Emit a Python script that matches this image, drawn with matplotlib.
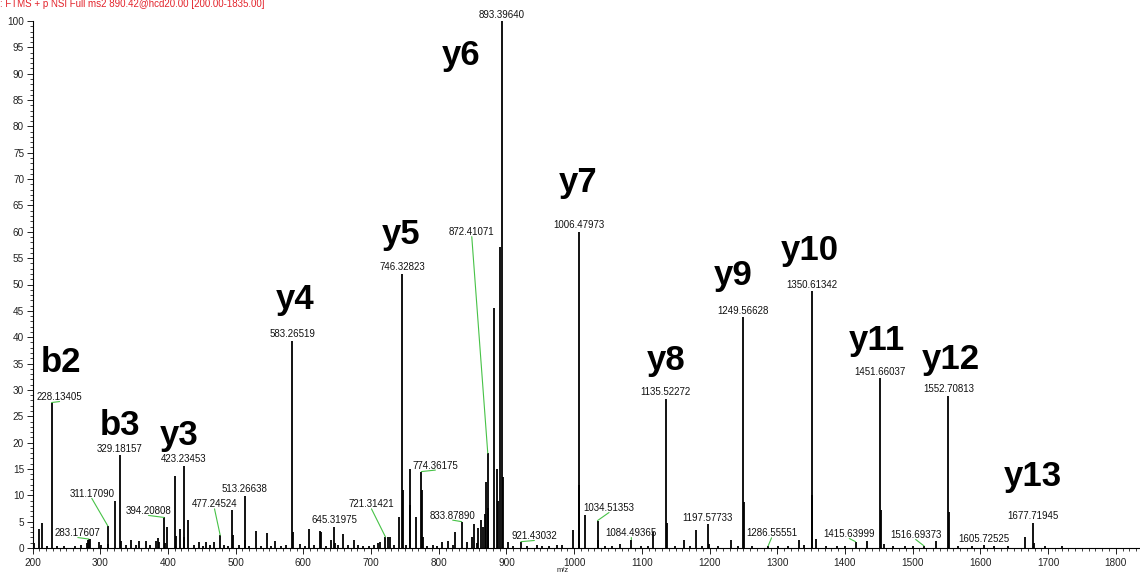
import matplotlib
matplotlib.use("Agg")
import matplotlib.pyplot as plt
from matplotlib.ticker import MultipleLocator

plt.rcParams['font.family'] = ['Liberation Sans', 'DejaVu Sans']

# ---- spectrum data -------------------------------------------------------
# centroid peaks that carry an m/z label (relative abundance, %)
labeled_mz = [228.13405, 283.17607, 311.17090, 329.18157, 394.20808, 423.23453,
              477.24524, 513.26638, 583.26519, 645.31975, 721.31421, 746.32823,
              774.36175, 833.87890, 872.41071, 893.39640, 921.43032, 1006.47973,
              1034.51353, 1084.49365, 1135.52272, 1197.57733, 1249.56628,
              1286.55551, 1350.61342, 1415.63999, 1451.66037, 1516.69373,
              1552.70813, 1605.72525, 1677.71945]
labeled_int = [27.6, 1.7, 4.2, 17.6, 5.8, 15.6,
               2.4, 9.9, 39.3, 4.0, 2.1, 52.0,
               14.5, 5.0, 18.0, 100.0, 1.2, 60.0,
               5.2, 1.6, 28.3, 4.5, 43.8,
               0.4, 48.7, 1.2, 32.2, 0.4,
               28.9, 0.5, 4.8]

# remaining peaks without a label
other_mz = [200.9, 202.6, 210.1, 214.6, 221.1, 236.2, 247.1, 262.2, 272.1, 280.9,
            281.8, 285.4, 298.2, 301.1, 312.2, 322.1, 330.2, 338.2, 345.2, 352.2,
            356.6, 367.2, 374.2, 382.2, 384.9, 386.2, 395.2, 399.3, 410.8, 411.8,
            417.2, 424.2, 429.4, 438.2, 445.3, 452.2, 456.6, 462.3, 468.2, 482.3,
            488.2, 494.6, 496.2, 504.3, 514.3, 520.3, 529.4, 537.3, 546.2, 552.3,
            557.5, 566.3, 574.3, 584.3, 595.3, 602.3, 608.3, 616.3, 625.3, 626.6,
            633.3, 641.3, 646.3, 651.3, 658.3, 665.3, 674.3, 680.3, 688.3, 697.3,
            704.3, 710.3, 713.3, 725.3, 727.4, 734.3, 740.8, 747.3, 751.3, 757.1,
            758.1, 767.0, 775.4, 776.4, 783.3, 791.3, 797.3, 804.6, 813.5, 820.4,
            824.3, 842.0, 849.5, 852.5, 856.0, 858.5, 862.5, 865.0, 868.0, 870.0,
            873.4, 880.9, 886.4, 888.0, 890.42, 894.4, 902.4, 910.3, 930.4, 944.4,
            952.4, 963.4, 975.4, 982.4, 998.5, 1007.5, 1016.5, 1035.5, 1045.5, 1056.5,
            1067.0, 1098.5, 1108.5, 1117.0, 1136.5, 1148.5, 1162.0, 1170.5, 1179.5, 1188.5,
            1198.6, 1212.5, 1231.0, 1241.5, 1250.6, 1262.6, 1301.6, 1315.6, 1332.0, 1339.0,
            1351.6, 1357.0, 1372.6, 1388.6, 1400.6, 1433.0, 1452.7, 1458.0, 1470.7, 1488.7,
            1500.7, 1534.0, 1553.7, 1566.7, 1587.0, 1620.7, 1640.7, 1666.0, 1678.7, 1695.7,
            1720.7]
other_int = [2.3, 1.0, 3.6, 4.8, 0.3, 0.4, 0.3, 0.4, 0.5, 1.0,
             1.6, 1.7, 1.2, 0.6, 0.8, 8.9, 1.4, 0.5, 1.6, 0.5,
             1.3, 1.3, 0.5, 1.4, 1.9, 1.2, 0.9, 3.9, 13.7, 2.2,
             3.7, 2.0, 5.3, 0.5, 1.2, 0.4, 1.2, 0.5, 1.2, 0.6,
             0.4, 7.2, 2.5, 0.5, 1.5, 0.4, 3.2, 0.4, 2.8, 0.4,
             1.3, 0.4, 0.5, 3.1, 0.8, 0.4, 3.7, 0.5, 3.3, 3.0,
             0.4, 1.5, 1.0, 0.5, 2.7, 0.6, 1.5, 0.6, 0.4, 0.4,
             0.5, 1.0, 1.2, 2.1, 2.0, 0.6, 5.9, 11.0, 0.6, 15.0,
             8.2, 5.9, 11.0, 2.0, 0.4, 0.5, 0.4, 1.2, 1.3, 0.5,
             3.1, 1.2, 2.1, 4.5, 1.0, 3.8, 5.4, 4.0, 6.4, 12.6,
             7.5, 45.5, 15.0, 9.0, 57.2, 13.5, 1.2, 0.4, 0.4, 0.5,
             0.4, 0.4, 0.5, 0.6, 3.4, 12.0, 6.3, 1.5, 0.4, 0.4,
             0.8, 0.4, 0.4, 3.1, 4.7, 0.4, 1.6, 0.4, 3.4, 0.4,
             0.8, 0.4, 1.5, 0.4, 8.8, 0.4, 0.4, 0.4, 1.6, 0.6,
             10.0, 1.8, 0.4, 0.4, 0.4, 1.4, 7.2, 0.7, 0.4, 0.4,
             0.4, 1.4, 6.9, 0.4, 0.4, 0.4, 0.4, 2.1, 1.0, 0.3,
             0.3]

# fragment ion assignments and the peak each one names
ion_names = ['b2', 'b3', 'y3', 'y4', 'y5', 'y6', 'y7', 'y8', 'y9',
             'y10', 'y11', 'y12', 'y13']
ion_mz = [228.13405, 329.18157, 423.23453, 583.26519, 746.32823, 893.39640,
          1006.47973, 1135.52272, 1249.56628, 1350.61342, 1451.66037,
          1552.70813, 1677.71945]

scan_header = ": FTMS + p NSI Full ms2 890.42@hcd20.00 [200.00-1835.00]"
x_title = "m/z"

# ---- label placement (pixel offsets of the text centre from the apex) ----
default_offset = (0, 6.5, False)
label_offsets = {
    228.13405: (8, 5.5, True),
    283.17607: (-11, 6, True),
    311.17090: (-16, 32, True),
    394.20808: (-15.5, 6.5, True),
    477.24524: (-5.7, 31, True),
    721.31421: (-14, 32.6, True),
    774.36175: (14, 6, True),
    833.87890: (-9, 6, True),
    872.41071: (-16, 221, True),
    921.43032: (13.4, 5.7, True),
    1034.51353: (11.5, 12.6, True),
    1084.49365: (0, 6.5, True),
    1286.55551: (3.4, 12.6, True),
    1415.63999: (-6.3, 7.7, True),
    1516.69373: (-8.3, 10.9, True),
}
ion_offsets = {
    'b2': (9, 40.5), 'b3': (0.5, 30), 'y3': (-4, 30), 'y4': (3.5, 41),
    'y5': (-1, 39), 'y6': (-41, -35), 'y7': (0, 49), 'y8': (0, 38),
    'y9': (-9.5, 42), 'y10': (-2, 41), 'y11': (-3, 38), 'y12': (2, 36),
    'y13': (0, 46),
}

W, H = 1140, 575
fig = plt.figure(figsize=(W / 100, H / 100), dpi=100)
ax = fig.add_axes([32.5 / W, 27 / H, 1107 / W, 527 / H])

all_mz = list(other_mz) + list(labeled_mz)
all_int = list(other_int) + list(labeled_int)
ax.vlines(all_mz, 0, all_int, colors='black', linewidth=1.3)

ax.set_xlim(200, 1835)
ax.set_ylim(0, 100)
for side in ('top', 'right'):
    ax.spines[side].set_visible(False)
for side in ('left', 'bottom'):
    ax.spines[side].set_linewidth(0.8)

ax.xaxis.set_major_locator(MultipleLocator(100))
ax.xaxis.set_minor_locator(MultipleLocator(10))
ax.yaxis.set_major_locator(MultipleLocator(5))
ax.yaxis.set_minor_locator(MultipleLocator(1))
ax.tick_params(which='major', length=4, width=0.7, labelsize=7.2, pad=2,
               colors='#222222')
ax.tick_params(axis='x', which='major', pad=3)
ax.tick_params(which='minor', length=2, width=0.6, colors='#222222')

green = '#47c247'
for mz, inten in zip(labeled_mz, labeled_int):
    dx, dy, leader = label_offsets.get(mz, default_offset)
    arrow = None
    if leader:
        arrow = dict(arrowstyle='-', color=green, lw=0.8, shrinkA=0, shrinkB=0,
                     relpos=(0.5, 0.05), patchA=None)
    ax.annotate(f"{mz:.5f}", xy=(mz, inten), xytext=(dx, dy),
                textcoords='offset pixels', ha='center', va='center',
                fontsize=7, color='#111111', annotation_clip=False,
                arrowprops=arrow)

apex = dict(zip(labeled_mz, labeled_int))
for name, mz in zip(ion_names, ion_mz):
    dx, dy = ion_offsets[name]
    ax.annotate(name, xy=(mz, apex[mz]), xytext=(dx, dy),
                textcoords='offset pixels', ha='center', va='center',
                fontsize=25, fontweight='bold', color='black',
                annotation_clip=False)

fig.text(0.0, 1 - 7 / H, scan_header, color='#e3232b', fontsize=7,
         ha='left', va='baseline')
fig.text(563 / W, 1 - 571 / H, x_title, fontsize=5.5, ha='center',
         va='center', color='#222222')

fig.savefig('out.png', dpi=100)
